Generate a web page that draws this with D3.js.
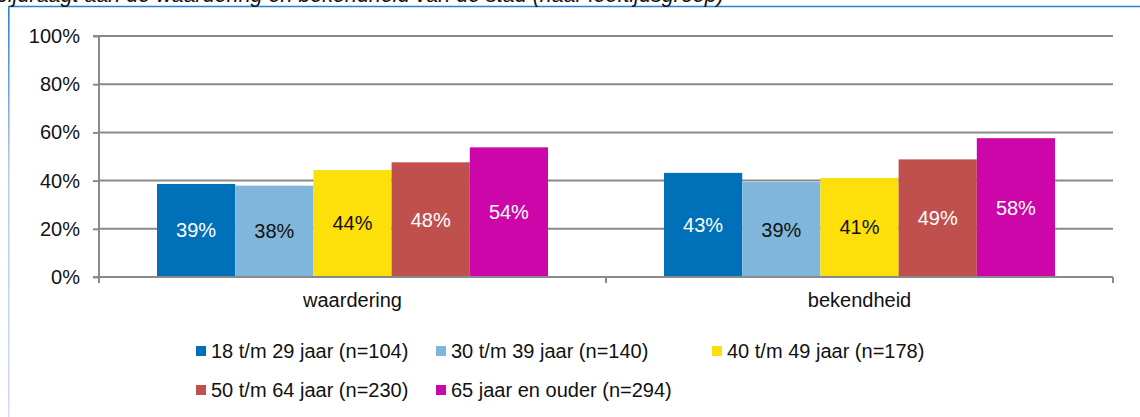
<!DOCTYPE html>
<html>
<head>
<meta charset="utf-8">
<script src="https://cdn.jsdelivr.net/npm/d3@7"></script>
<style>
  body { margin: 0; background: #fff; }
  svg { display: block; font-family: "Liberation Sans", Arial, sans-serif; }
</style>
</head>
<body>
<svg id="chart" width="1140" height="417"></svg>
<script>
// data
const categories = ["waardering", "bekendheid"];
const groups = ["18 t/m 29 jaar (n=104)", "30 t/m 39 jaar (n=140)", "40 t/m 49 jaar (n=178)",
                "50 t/m 64 jaar (n=230)", "65 jaar en ouder (n=294)"];
const waardering = [38.6, 37.9, 44.4, 47.6, 53.8];
const bekendheid = [43.2, 39.4, 41.1, 48.8, 57.6];
const yTicks = [0, 20, 40, 60, 80, 100];
const colors = ["#0070b8", "#80b6dc", "#fde00a", "#c0504d", "#cc06a8"];
const labelColors = ["#fff", "#111", "#111", "#fff", "#fff"];

const seriesByCat = { waardering, bekendheid };
const fs = 20;

const svg = d3.select("#chart");

// frame (cut off at right / bottom) and title remnant
const grad = svg.append("defs").append("linearGradient")
  .attr("id", "leftEdge").attr("x1", 0).attr("y1", 0).attr("x2", 0).attr("y2", 1);
grad.append("stop").attr("offset", "0%").attr("stop-color", "#2a7fd0");
grad.append("stop").attr("offset", "40%").attr("stop-color", "#b7cbed");
grad.append("stop").attr("offset", "100%").attr("stop-color", "#d3def3");
svg.append("rect").attr("x", 8).attr("y", 6).attr("width", 1.6).attr("height", 411).attr("fill", "url(#leftEdge)");
svg.append("line").attr("x1", 8).attr("x2", 1140).attr("y1", 6.5).attr("y2", 6.5)
  .attr("stroke", "#2a7fd0").attr("stroke-width", 1.6);

svg.append("text")
  .attr("x", -4).attr("y", 1.5)
  .attr("font-size", 21.5).attr("font-style", "italic").attr("fill", "#111")
  .text("bijdraagt aan de waardering en bekendheid van de stad (naar leeftijdsgroep)");

const margin = { left: 99, right: 27, top: 36, bottom: 140 };
const width = 1140 - margin.left - margin.right;
const height = 417 - margin.top - margin.bottom;

const g = svg.append("g").attr("transform", `translate(${margin.left},${margin.top})`);

const x0 = d3.scaleBand().domain(categories).range([0, width]).paddingInner(0).paddingOuter(0);
const x1 = d3.scaleBand().domain(d3.range(groups.length)).range([58, x0.bandwidth() - 58]).padding(0);
const y = d3.scaleLinear().domain([0, 100]).range([height, 0]);

const grey = "#8a8a8a";

// gridlines
g.selectAll(".grid").data(yTicks.slice(1)).enter().append("line")
  .attr("x1", 0).attr("x2", width)
  .attr("y1", d => y(d)).attr("y2", d => y(d))
  .attr("stroke", grey).attr("stroke-width", 2);

// y axis
const yAxis = g.append("g").call(d3.axisLeft(y).tickValues(yTicks).tickFormat(d => d + "%").tickSize(6).tickPadding(13));
yAxis.select(".domain").attr("stroke", grey).attr("stroke-width", 2).attr("d", `M-6,0H0V${height}H-6`);
yAxis.selectAll(".tick line").attr("stroke", grey).attr("stroke-width", 2);
yAxis.selectAll(".tick text").attr("font-size", fs).attr("fill", "#111").attr("font-family", "Liberation Sans, Arial, sans-serif");

// bars
const cat = g.selectAll(".cat").data(categories).enter().append("g")
  .attr("transform", d => `translate(${x0(d)},0)`);

cat.selectAll("rect").data(c => seriesByCat[c].map((v, i) => ({ v, i }))).enter().append("rect")
  .attr("x", d => x1(d.i)).attr("width", x1.bandwidth())
  .attr("y", d => y(d.v)).attr("height", d => height - y(d.v))
  .attr("fill", d => colors[d.i]);

cat.selectAll(".lbl").data(c => seriesByCat[c].map((v, i) => ({ v, i }))).enter().append("text")
  .attr("x", d => x1(d.i) + x1.bandwidth() / 2)
  .attr("y", d => (y(d.v) + height) / 2)
  .attr("dy", "0.35em")
  .attr("text-anchor", "middle")
  .attr("font-size", fs)
  .attr("fill", d => labelColors[d.i])
  .text(d => Math.round(d.v) + "%");

// x axis
const xAxis = g.append("g").attr("transform", `translate(0,${height})`)
  .call(d3.axisBottom(x0).tickSize(0).tickPadding(16));
xAxis.select(".domain").remove();
xAxis.selectAll(".tick text").attr("font-size", fs).attr("fill", "#111").attr("font-family", "Liberation Sans, Arial, sans-serif");
g.append("line").attr("x1", 0).attr("x2", width).attr("y1", height).attr("y2", height)
  .attr("stroke", grey).attr("stroke-width", 2);
g.selectAll(".xtick").data([0, x0.bandwidth(), width]).enter().append("line")
  .attr("x1", d => d).attr("x2", d => d).attr("y1", height).attr("y2", height + 6)
  .attr("stroke", grey).attr("stroke-width", 2);

// legend
const legendPos = [[196, 351], [436, 351], [712, 351], [196, 390], [436, 390]];
const legend = svg.selectAll(".leg").data(groups).enter().append("g")
  .attr("transform", (d, i) => `translate(${legendPos[i][0]},${legendPos[i][1]})`);
legend.append("rect").attr("x", 0).attr("y", -5).attr("width", 10).attr("height", 10)
  .attr("fill", (d, i) => colors[i]);
legend.append("text").attr("x", 15).attr("dy", "0.35em")
  .attr("font-size", fs).attr("fill", "#111").text(d => d);
</script>
</body>
</html>
